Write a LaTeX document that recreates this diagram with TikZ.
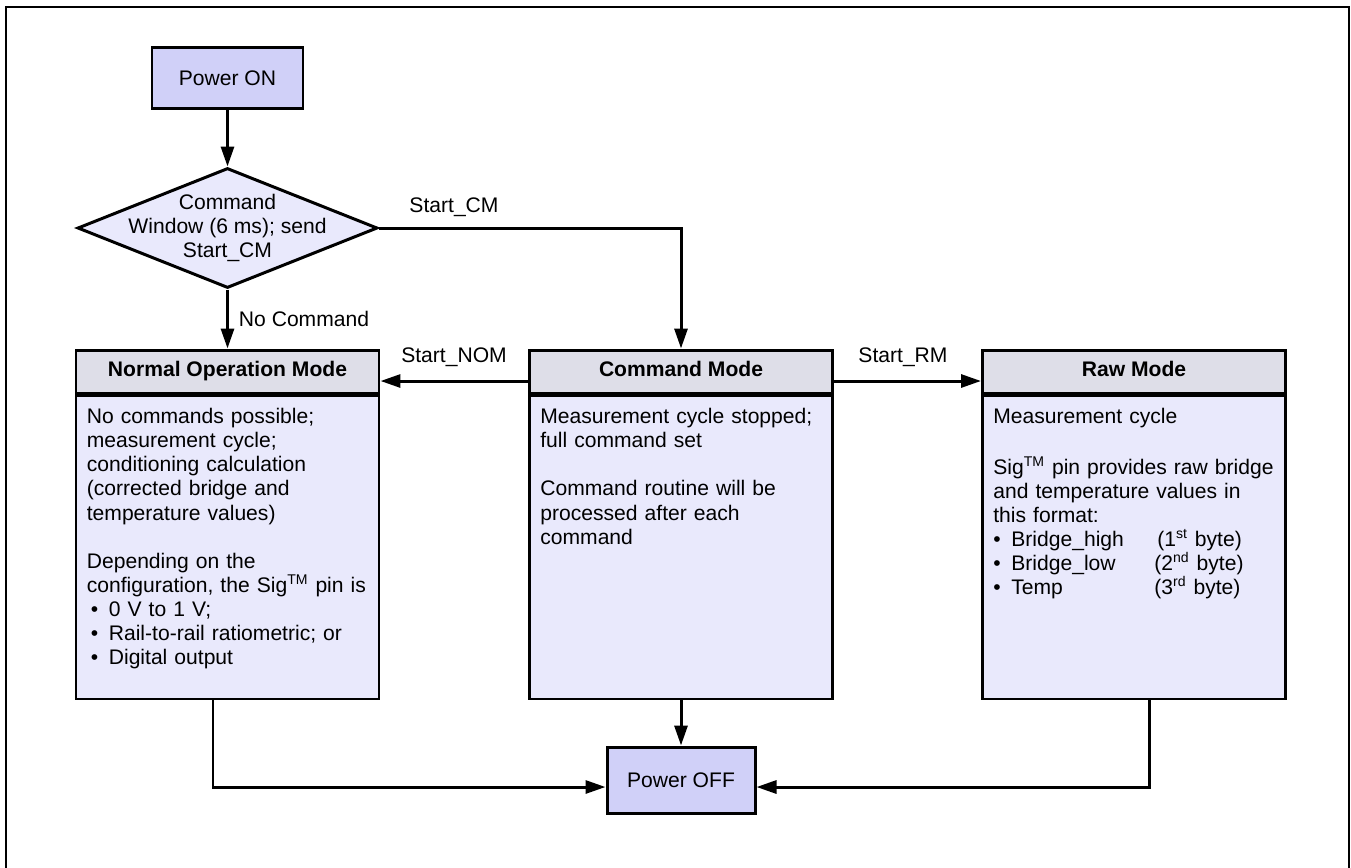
\documentclass[tikz,border=0pt]{standalone}
\usepackage{fontspec}
\setmainfont{Liberation Sans}
\usetikzlibrary{arrows.meta,shapes.geometric}
\definecolor{powerfill}{RGB}{208,208,248}
\definecolor{headfill}{RGB}{222,222,232}
\definecolor{bodyfill}{RGB}{233,233,252}
\newcommand{\bul}{\makebox[0.36cm][l]{\textbullet}}

\begin{document}
\begin{tikzpicture}[font=\fontsize{12}{13.7}\selectfont,
  trans/.style={line width=1.7pt,-{Triangle[length=0.4cm,width=0.26cm]}},
  power/.style={draw,line width=1.7pt,fill=powerfill,minimum width=3.02cm,minimum height=1.22cm},
  head/.style={draw,line width=1.7pt,fill=headfill,minimum width=6.06cm,minimum height=0.86cm,text height=8.6pt,text depth=2.6pt,font=\fontsize{12}{13.7}\selectfont\bfseries},
  body/.style={draw,line width=1.7pt,fill=bodyfill,minimum width=6.06cm,minimum height=6.06cm,anchor=north},
  bodytext/.style={anchor=north west,inner sep=0pt,text width=5.9cm,align=left},
  lbl/.style={inner sep=0pt}]
\useasboundingbox (0,0) rectangle (27.02,-17.34);
\draw[line width=1.2pt] (0.12,-17.6) -- (0.12,-0.14) -- (26.98,-0.14) -- (26.98,-17.6);
\node[power] (pon) at (4.55,-1.56) {Power ON};
\node[diamond,draw,line width=1.7pt,fill=bodyfill,minimum width=6cm,minimum height=2.4cm,inner sep=0pt] (win) at (4.55,-4.56) {};
	\node[align=center] (wintext) at (win.center) {Command\\Window (6 ms); send\\Start\_CM};
\node[head] (nomhead) at (4.55,-7.43) {Normal Operation Mode};
	\node[body] (nombody) at (nomhead.south) {};
	\node[bodytext] (nomtext) at ([shift={(0.24,-0.24)}]nombody.north west)
	{\strut No commands possible;\\ measurement cycle;\\ conditioning calculation\\ (corrected bridge and\\ temperature values)\\[13.7pt]
	Depending on the\\ configuration, the Sig\textsuperscript{TM} pin is\\
	\hspace*{0.08cm}\bul 0 V to 1 V;\\ \hspace*{0.08cm}\bul Rail-to-rail ratiometric; or\\ \hspace*{0.08cm}\bul Digital output};
\node[head] (cmhead) at (13.62,-7.43) {Command Mode};
	\node[body] (cmbody) at (cmhead.south) {};
	\node[bodytext] (cmtext) at ([shift={(0.24,-0.24)}]cmbody.north west)
	{\strut Measurement cycle stopped;\\ full command set\\[13.7pt] Command routine will be\\ processed after each\\ command};
\node[head] (rawhead) at (22.68,-7.43) {Raw Mode};
	\node[body] (rawbody) at (rawhead.south) {};
	\node[bodytext] (rawtext) at ([shift={(0.24,-0.24)}]rawbody.north west)
	{\strut Measurement cycle\\[13.7pt] Sig\textsuperscript{TM} pin provides raw bridge\\ and temperature values in\\ this format:\\
	\bul\makebox[2.92cm][l]{Bridge\_high}(1\textsuperscript{st} byte)\\
	\bul\makebox[2.86cm][l]{Bridge\_low}(2\textsuperscript{nd} byte)\\
	\bul\makebox[2.86cm][l]{Temp}(3\textsuperscript{rd} byte)};
\node[power,minimum width=2.96cm,minimum height=1.32cm] (off) at (13.62,-15.6) {Power OFF};
\node[lbl] (startcm) at (9.08,-4.14) {Start\_CM};
\node[lbl] (startnom) at (9.08,-7.14) {Start\_NOM};
\node[lbl] (startrm) at (18.06,-7.14) {Start\_RM};
	\draw[trans] (pon) -- (win);
	\draw[trans] (win) -- node[lbl,right=0.2cm] (nocmd) {No Command} (nomhead);
	\draw[trans] (win.east) -| (cmhead.north);
	\draw[trans] ([yshift=-0.19cm]cmhead.west) -- ([yshift=-0.19cm]nomhead.east);
	\draw[trans] ([yshift=-0.19cm]cmhead.east) -- ([yshift=-0.19cm]rawhead.west);
	\draw[trans] (cmbody.south) -- (off.north);
	\draw[trans] ([xshift=-0.29cm]nombody.south) |- ([yshift=-0.14cm]off.west);
	\draw[trans] ([xshift=0.3cm]rawbody.south) |- ([yshift=-0.14cm]off.east);
\end{tikzpicture}
\end{document}
